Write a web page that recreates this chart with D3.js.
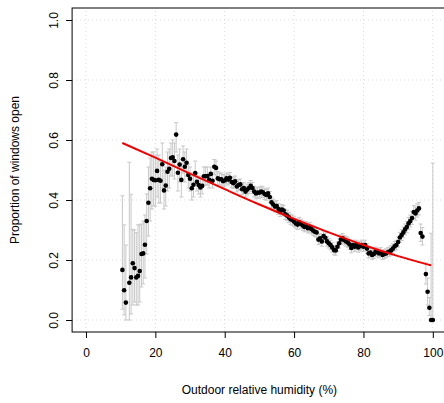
<!DOCTYPE html>
<html>
<head>
<meta charset="utf-8">
<script src="https://cdn.jsdelivr.net/npm/d3@7"></script>
<style>
  html, body { margin: 0; padding: 0; background: #fff; }
  svg { display: block; font-family: "Liberation Sans", Arial, Helvetica, sans-serif; }
</style>
</head>
<body>
<div id="chart"></div>
<script>
// ---- Data ----
const humidity = [
  10.5, 11, 11.5, 12.5, 13, 13.5, 14, 14.5, 15, 15.5, 16, 16.5, 17, 17.5, 18, 18.5, 19, 19.5, 20, 20.5,
  21, 21.5, 22, 22.5, 23, 23.5, 24, 24.5, 25, 25.5, 26, 26.5, 27, 27.5, 28, 28.5, 29, 29.5, 30, 30.5,
  31, 31.5, 32, 32.5, 33, 33.5, 34, 34.5, 35, 35.5, 36, 36.5, 37, 37.5, 38, 38.5, 39, 39.5,
  40, 40.5, 41, 41.5, 42, 42.5, 43, 43.5, 44, 44.5, 45, 45.5, 46, 46.5, 47, 47.5, 48, 48.5, 49, 49.5,
  50, 50.5, 51, 51.5, 52, 52.5, 53, 53.5, 54, 54.5, 55, 55.5, 56, 56.5, 57, 57.5, 58, 58.5, 59, 59.5,
  60, 60.5, 61, 61.5, 62, 62.5, 63, 63.5, 64, 64.5, 65, 65.5, 66, 66.5, 67, 67.5, 68, 68.5, 69, 69.5,
  70, 70.5, 71, 71.5, 72, 72.5, 73, 73.5, 74, 74.5, 75, 75.5, 76, 76.5, 77, 77.5, 78, 78.5, 79, 79.5,
  80, 80.5, 81, 81.5, 82, 82.5, 83, 83.5, 84, 84.5, 85, 85.5, 86, 86.5, 87, 87.5, 88, 88.5, 89, 89.5,
  90, 90.5, 91, 91.5, 92, 92.5, 93, 93.5, 94, 94.5, 95, 95.5, 96, 96.5, 97, 98, 98.5, 99, 99.5, 100
];
const propOpen = [
  .167, .099, .058, .124, .142, .189, .173, .142, .147, .163, .220, .222, .251, .330, .391, .439, .471, .467, .466, .497,
  .467, .464, .519, .432, .448, .494, .504, .540, .542, .530, .618, .491, .518, .467, .536, .511, .524, .483, .471, .439,
  .451, .490, .461, .450, .442, .447, .479, .479, .480, .467, .487, .464, .511, .507, .472, .469, .469, .463,
  .465, .472, .468, .474, .460, .456, .462, .445, .450, .452, .436, .440, .428, .435, .440, .447, .440, .428, .422, .425,
  .424, .428, .426, .420, .417, .422, .410, .392, .385, .378, .380, .370, .362, .368, .365, .352, .348, .342, .336, .333,
  .328, .322, .318, .326, .320, .315, .310, .312, .306, .309, .303, .298, .294, .292, .268, .272, .262, .280, .274, .262,
  .256, .250, .242, .233, .232, .244, .256, .268, .272, .266, .262, .258, .252, .240, .250, .244, .250, .242, .246, .250,
  .244, .250, .238, .222, .225, .217, .220, .228, .225, .222, .226, .217, .220, .222, .226, .228, .232, .238, .246, .250,
  .260, .275, .283, .292, .302, .310, .322, .330, .340, .360, .355, .365, .372, .290, .278, .153, .094, .041, .000, .000
];
const ciLow = [
  .036, .017, .000, .000, .020, .050, .060, .050, .050, .060, .110, .120, .140, .220, .280, .330, .370, .380, .380, .410,
  .390, .390, .440, .370, .380, .430, .440, .480, .480, .470, .560, .430, .460, .410, .490, .460, .480, .440, .430, .400,
  .410, .450, .430, .420, .410, .420, .450, .450, .450, .440, .460, .440, .485, .480, .450, .450, .450, .445,
  .447, .454, .450, .456, .442, .438, .444, .427, .432, .434, .418, .422, .410, .417, .422, .429, .422, .410, .404, .407,
  .406, .410, .408, .402, .399, .404, .392, .374, .367, .360, .362, .352, .345, .351, .348, .335, .331, .325, .319, .316,
  .312, .306, .302, .310, .304, .299, .294, .296, .290, .293, .287, .282, .278, .276, .252, .256, .246, .264, .258, .246,
  .240, .234, .226, .217, .216, .228, .240, .252, .256, .250, .246, .242, .236, .224, .234, .228, .234, .226, .230, .234,
  .228, .234, .222, .207, .210, .202, .205, .213, .210, .207, .211, .202, .205, .207, .211, .213, .216, .222, .230, .234,
  .243, .258, .265, .274, .284, .291, .302, .310, .319, .338, .333, .343, .350, .262, .250, .120, .050, .015, .000, .000
];
const ciHigh = [
  .414, .317, .250, .526, .419, .302, .300, .291, .317, .317, .320, .330, .350, .420, .510, .540, .560, .560, .550, .570,
  .550, .530, .590, .500, .510, .560, .570, .590, .600, .590, .658, .550, .570, .520, .580, .560, .570, .520, .510, .480,
  .490, .530, .490, .480, .470, .480, .510, .510, .510, .490, .510, .490, .535, .530, .495, .490, .490, .485,
  .483, .490, .486, .492, .478, .474, .480, .463, .468, .470, .454, .458, .446, .453, .458, .465, .458, .446, .440, .443,
  .442, .446, .444, .438, .435, .440, .428, .410, .403, .396, .398, .388, .379, .385, .382, .369, .365, .359, .353, .350,
  .344, .338, .334, .342, .336, .331, .326, .328, .322, .325, .319, .314, .310, .308, .284, .288, .278, .296, .290, .278,
  .272, .266, .258, .249, .248, .260, .272, .284, .288, .282, .278, .274, .268, .256, .266, .260, .266, .258, .262, .266,
  .260, .266, .254, .237, .240, .232, .235, .243, .240, .237, .241, .232, .235, .237, .241, .243, .248, .254, .262, .266,
  .277, .292, .301, .310, .320, .329, .342, .350, .361, .382, .377, .387, .392, .320, .308, .190, .140, .075, .289, .523
];
// Fitted (logistic) trend line, read at a few humidity values
const fitHumidity = [10.5, 20, 30, 40, 50, 60, 70, 80, 90, 99.5];
const fitProp = [0.590, 0.541, 0.488, 0.436, 0.385, 0.337, 0.292, 0.250, 0.213, 0.182];

const xTicks = [0, 20, 40, 60, 80, 100];
const yTicks = [0.0, 0.2, 0.4, 0.6, 0.8, 1.0];
const xTitle = "Outdoor relative humidity (%)";
const yTitle = "Proportion of windows open";

// ---- Chart ----
const W = 444, H = 403;
const svg = d3.select("#chart").append("svg").attr("width", W).attr("height", H);

const x = d3.scaleLinear().domain([-4, 104]).range([72.1, 446.7]);
const y = d3.scaleLinear().domain([-0.04, 1.04]).range([332, 8]);

const pts = humidity.map((h, i) => ({ h, p: propOpen[i], lo: ciLow[i], hi: ciHigh[i] }));

// grid
const grid = svg.append("g").attr("stroke", "#d9d9d9").attr("stroke-width", 1).attr("stroke-dasharray", "1,3").attr("fill", "none");
xTicks.forEach(t => grid.append("line").attr("x1", x(t)).attr("x2", x(t)).attr("y1", y(-0.04)).attr("y2", y(1.04)));
yTicks.forEach(t => grid.append("line").attr("x1", x(-4)).attr("x2", x(104)).attr("y1", y(t)).attr("y2", y(t)));

// error bars
const eb = svg.append("g").attr("stroke", "#c8c8c8").attr("stroke-width", 1).attr("fill", "none");
pts.forEach(d => {
  eb.append("line").attr("x1", x(d.h)).attr("x2", x(d.h)).attr("y1", y(d.lo)).attr("y2", y(d.hi));
  eb.append("line").attr("x1", x(d.h) - 2).attr("x2", x(d.h) + 2).attr("y1", y(d.lo)).attr("y2", y(d.lo));
  eb.append("line").attr("x1", x(d.h) - 2).attr("x2", x(d.h) + 2).attr("y1", y(d.hi)).attr("y2", y(d.hi));
});

// points
svg.append("g").selectAll("circle").data(pts).join("circle")
  .attr("cx", d => x(d.h)).attr("cy", d => y(d.p)).attr("r", 2.3).attr("fill", "#000");

// fitted line (red, with a darker dashed overlay as in the reference)
const fit = fitHumidity.map((h, i) => [h, fitProp[i]]);
const fitLine = d3.line().x(d => x(d[0])).y(d => y(d[1])).curve(d3.curveMonotoneX);
svg.append("path").datum(fit).attr("d", fitLine)
  .attr("fill", "none").attr("stroke", "#ff0000").attr("stroke-width", 2);
svg.append("path").datum(fit).attr("d", fitLine)
  .attr("fill", "none").attr("stroke", "#c00000").attr("stroke-width", 1).attr("stroke-dasharray", "3,3").attr("opacity", 0.6);

// box
svg.append("rect").attr("x", x(-4)).attr("y", y(1.04)).attr("width", x(104) - x(-4)).attr("height", y(-0.04) - y(1.04))
  .attr("fill", "none").attr("stroke", "#000").attr("stroke-width", 1);

// x axis
const xa = svg.append("g").attr("transform", `translate(0,${y(-0.04)})`)
  .call(d3.axisBottom(x).tickValues(xTicks).tickSize(6).tickFormat(d3.format("d")));
xa.select(".domain").remove();
xa.selectAll("line").attr("stroke", "#000");
xa.selectAll("text").attr("y", 25.3).attr("dy", 0).attr("font-size", 12).attr("fill", "#000")
  .attr("font-family", "Liberation Sans, Arial, sans-serif");

// y axis
const ya = svg.append("g").attr("transform", `translate(${x(-4)},0)`)
  .call(d3.axisLeft(y).tickValues(yTicks).tickSize(6).tickFormat(d3.format(".1f")));
ya.select(".domain").remove();
ya.selectAll("line").attr("stroke", "#000");
ya.selectAll("text").attr("transform", "rotate(-90)").attr("x", 0).attr("y", -14).attr("dy", 0)
  .attr("text-anchor", "middle").attr("font-size", 12).attr("fill", "#000")
  .attr("font-family", "Liberation Sans, Arial, sans-serif");

// titles
svg.append("text").attr("x", (x(-4) + x(104)) / 2).attr("y", 394).attr("text-anchor", "middle")
  .attr("font-size", 12).attr("fill", "#000").text(xTitle);
svg.append("text").attr("transform", `translate(19,${(y(-0.04) + y(1.04)) / 2}) rotate(-90)`)
  .attr("text-anchor", "middle").attr("font-size", 12).attr("fill", "#000").text(yTitle);
</script>
</body>
</html>
